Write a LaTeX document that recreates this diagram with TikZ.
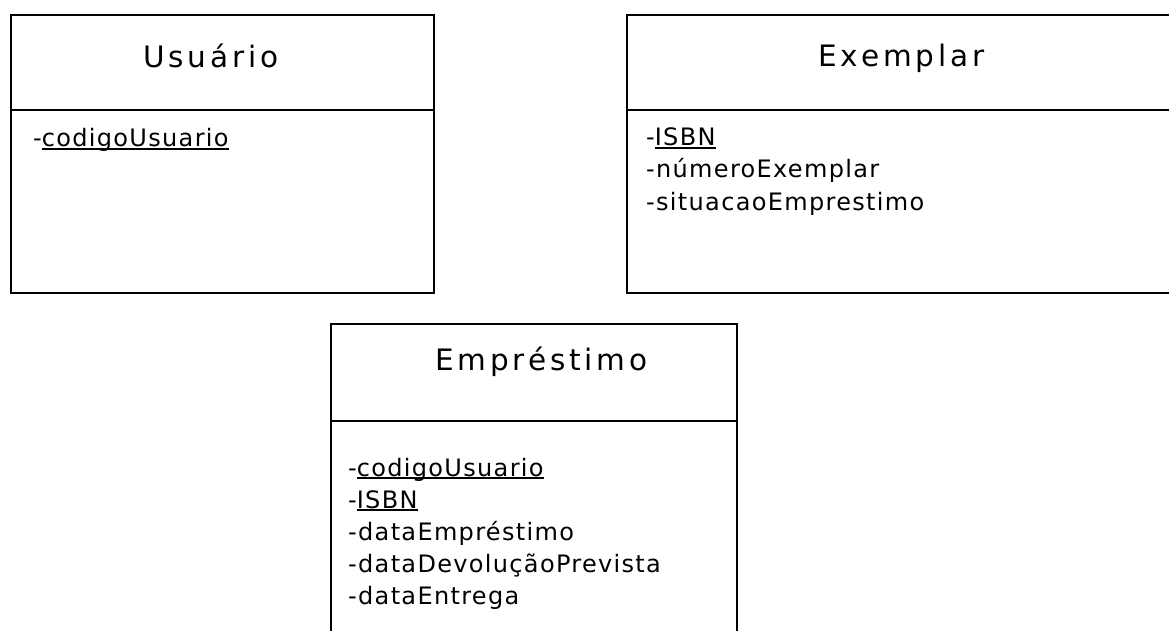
\documentclass[tikz,border=0pt]{standalone}
\usepackage{fontspec}
\setmainfont{DejaVu Sans}
\newfontfamily\titlefont[LetterSpace=13]{DejaVu Sans}
\newfontfamily\attrfont[LetterSpace=5.5]{DejaVu Sans}
% key attribute: underlined at a fixed distance below the baseline
\newcommand\keyattr[1]{\setbox0\hbox{#1}\rlap{\rule[-2.8pt]{\wd0}{1.6pt}}\box0}
\begin{document}
\begin{tikzpicture}[x=1pt,y=-1pt,
  classbox/.style={draw=black, line width=2.4pt, inner sep=0pt, outer sep=0pt, anchor=north west},
  divider/.style={draw=black, line width=2.4pt},
  classname/.style={anchor=base west, inner sep=0pt, font=\titlefont\fontsize{29.5}{34}\selectfont},
  attr/.style={anchor=base west, inner sep=0pt, font=\attrfont\fontsize{24}{28}\selectfont}]
\useasboundingbox (0,0) rectangle (1169,631);
\clip (0,0) rectangle (1169,631);

% Usuário
\node[classbox, minimum width=423pt, minimum height=278pt] (usuario) at (11,15) {};
\draw[divider] ([yshift=-95pt]usuario.north west) -- ([yshift=-95pt]usuario.north east);
\node[classname] (usuarioName) at (143,68) {Usuário};
\node[attr] (usuarioA1) at (33,147) {-\keyattr{codigoUsuario}};

% Exemplar (runs past the right edge)
\node[classbox, minimum width=560pt, minimum height=278pt] (exemplar) at (627,15) {};
\draw[divider] ([yshift=-95pt]exemplar.north west) -- ([yshift=-95pt]exemplar.north east);
\node[classname] (exemplarName) at (818,67) {Exemplar};
\node[attr] (exemplarA1) at (646,146) {-\keyattr{ISBN}};
\node[attr] (exemplarA2) at (646,178) {-númeroExemplar};
\node[attr] (exemplarA3) at (646,210) {-situacaoEmprestimo};

% Empréstimo (runs past the bottom edge)
\node[classbox, minimum width=406pt, minimum height=330pt] (emprestimo) at (331,324) {};
\draw[divider] ([yshift=-97pt]emprestimo.north west) -- ([yshift=-97pt]emprestimo.north east);
\node[classname] (emprestimoName) at (435,370) {Empréstimo};
\node[attr] (emprestimoA1) at (348,476) {-\keyattr{codigoUsuario}};
\node[attr] (emprestimoA2) at (348,508) {-\keyattr{ISBN}};
\node[attr] (emprestimoA3) at (348,540) {-dataEmpréstimo};
\node[attr] (emprestimoA4) at (348,572) {-dataDevoluçãoPrevista};
\node[attr] (emprestimoA5) at (348,604) {-dataEntrega};
\end{tikzpicture}
\end{document}
